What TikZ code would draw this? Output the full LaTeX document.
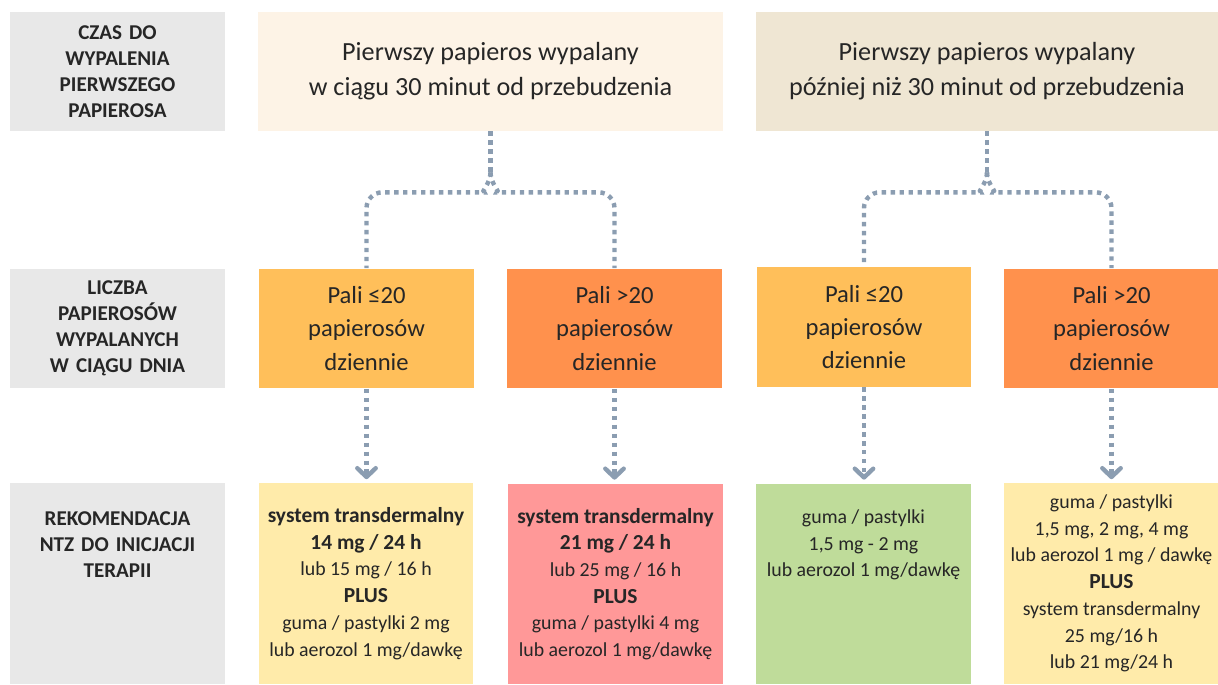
\documentclass[tikz,border=0pt]{standalone}
\usepackage{fontspec}
\setmainfont{Carlito}
\usetikzlibrary{calc,arrows.meta}
\definecolor{labgrey}{HTML}{E8E8E8}
\definecolor{early}{HTML}{FDF3E6}
\definecolor{late}{HTML}{EFE6D3}
\definecolor{few}{HTML}{FFBF5A}
\definecolor{many}{HTML}{FF914D}
\definecolor{paleyel}{HTML}{FFEBAA}
\definecolor{recpink}{HTML}{FF9898}
\definecolor{recgreen}{HTML}{BFDC9A}
\definecolor{connc}{HTML}{8B9DB1}
\definecolor{ink}{HTML}{262626}
\newcommand{\bigb}[1]{{\fontsize{12.2}{15.2}\selectfont\bfseries #1}}

\begin{document}
\begin{tikzpicture}[x=0.02cm, y=-0.02cm,
    every node/.style={text=ink, inner sep=0pt},
    lbl/.style={fill=labgrey, minimum width=4.3cm, minimum height=2.38cm, text width=4cm,
                align=center, font=\fontsize{12}{14.7}\selectfont\bfseries},
    topbox/.style={minimum height=2.38cm, align=center, font=\fontsize{14.9}{19.8}\selectfont},
    smoke/.style={minimum width=4.3cm, minimum height=2.4cm, align=center,
                  font=\fontsize{14}{19}\selectfont},
    rec/.style={minimum width=4.3cm, minimum height=4.02cm, align=center,
                font=\fontsize{11.3}{15.2}\selectfont},
    link/.style={draw=connc, line width=2.5pt, dash pattern=on 2.5pt off 2.6pt},
    tip/.style={-{Straight Barb[length=5pt, width=10.5pt, round]}, shorten >=2pt}]
    \useasboundingbox (0,0) rectangle (1218,684);

    % row labels
    \node[lbl] (czas) at (117.5,71.5) {CZAS DO\\WYPALENIA\\PIERWSZEGO\\PAPIEROSA};
    \node[lbl] (liczba) at (117.5,328.5) {LICZBA\\PAPIEROSÓW\\WYPALANYCH\\W CIĄGU DNIA};
    \node[lbl, minimum height=4.02cm] (rekom) at (117.5,583.5) {};
    \node[lbl, fill=none, minimum height=0pt, anchor=north] (rekomt) at ($(rekom.north)+(0,29)$)
      {REKOMENDACJA\\NTZ DO INICJACJI\\TERAPII};

    % time to first cigarette
    \node[topbox, fill=early, minimum width=9.3cm] (t1) at (490.5,71.5)
      {Pierwszy papieros wypalany\\w ciągu 30 minut od przebudzenia};
    \node[topbox, fill=late, minimum width=9.24cm] (t2) at (987,71.5)
      {Pierwszy papieros wypalany\\później niż 30 minut od przebudzenia};

    % cigarettes per day
    \node[smoke, fill=few] (a1) at (366.5,328.5) {Pali ≤20\\papierosów\\dziennie};
    \node[smoke, fill=many] (b1) at (614.5,328.5) {Pali >20\\papierosów\\dziennie};
    \node[smoke, fill=few] (c1) at (864,327) {Pali ≤20\\papierosów\\dziennie};
    \node[smoke, fill=many] (d1) at (1111.5,328.5) {Pali >20\\papierosów\\dziennie};

    % recommendations
    \node[rec, fill=paleyel] (a2) at (366,583.5)
      {\bigb{system transdermalny}\\\bigb{14 mg / 24 h}\\lub 15 mg / 16 h\\\bigb{PLUS}\\
       guma / pastylki 2 mg\\lub aerozol 1 mg/dawkę};
    \node[rec, fill=recpink] (b2) at (615.5,584)
      {\bigb{system transdermalny}\\\bigb{21 mg / 24 h}\\lub 25 mg / 16 h\\\bigb{PLUS}\\
       guma / pastylki 4 mg\\lub aerozol 1 mg/dawkę};
    \node[rec, fill=recgreen] (c2) at (863.5,584) {};
    \node[rec, minimum height=0pt, anchor=north] (c2t) at ($(c2.north)+(0,26)$)
      {guma / pastylki\\1,5 mg - 2 mg\\lub aerozol 1 mg/dawkę};
    \node[rec, fill=paleyel] (d2) at (1111.5,583.5)
      {guma / pastylki\\1,5 mg, 2 mg, 4 mg\\lub aerozol 1 mg / dawkę\\\bigb{PLUS}\\
       system transdermalny\\25 mg/16 h\\lub 21 mg/24 h};

    % split connectors
    \coordinate (s1) at ($(t1.south)+(0,41)$);
    \coordinate (s2) at ($(t2.south)+(0,41)$);
    \draw[link] (t1.south) -- (s1);
    \draw[link, rounded corners=9pt] (s1) to[out=-90, in=0] ++(-22,20) -| (a1.north);
    \draw[link, rounded corners=9pt] (s1) to[out=-90, in=180] ++(22,20) -| (b1.north);
    \draw[link] (t2.south) -- (s2);
    \draw[link, rounded corners=9pt] (s2) to[out=-90, in=0] ++(-22,20) -| (c1.north);
    \draw[link, rounded corners=9pt] (s2) to[out=-90, in=180] ++(22,20) -| (d1.north);

    % arrows to recommendations
    \draw[link, tip] (a1.south) -- (a1.south |- a2.north);
    \draw[link, tip] (b1.south) -- (b1.south |- b2.north);
    \draw[link, tip] (c1.south) -- (c1.south |- c2.north);
    \draw[link, tip] (d1.south) -- (d1.south |- d2.north);
\end{tikzpicture}
\end{document}
